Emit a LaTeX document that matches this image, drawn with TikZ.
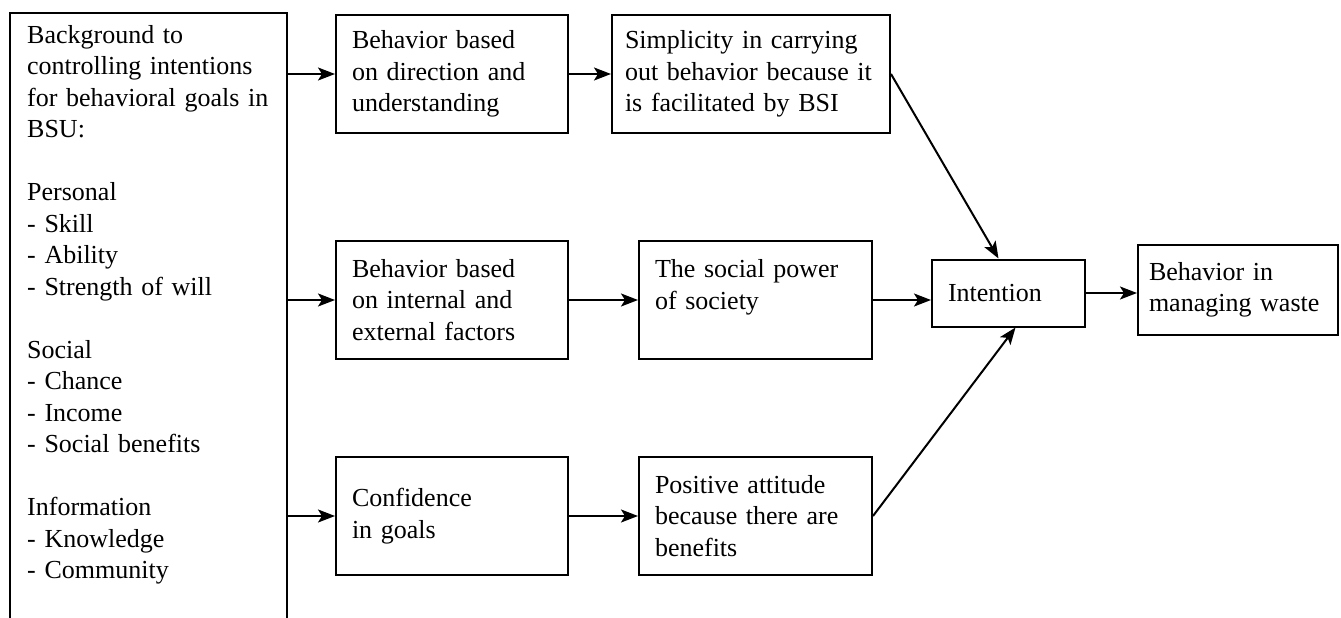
\documentclass[tikz,border=0pt]{standalone}
\usepackage{fontspec}
\setmainfont{Liberation Serif}
\usetikzlibrary{arrows.meta}

\tikzset{
  txt/.style={font=\fontsize{26}{31.5}\selectfont, align=left},
  box/.style={txt, draw, line width=2pt, inner xsep=16pt, minimum height=118pt},
  arr/.style={-{Stealth[length=17pt,width=13pt,inset=4pt]}, line width=2pt},
}

\begin{document}
\begin{tikzpicture}[x=1pt,y=-1pt]
\useasboundingbox (0,0) rectangle (1341,618);
% background column, its frame runs off the bottom of the page
\node[txt,anchor=north west,inner xsep=17pt,inner ysep=12pt,text width=243pt] (bg) at (10,13) {Background to\\controlling intentions\\for behavioral goals in\\BSU:\\[31.5pt]Personal\\- Skill\\- Ability\\- Strength of will\\[31.5pt]Social\\- Chance\\- Income\\- Social benefits\\[31.5pt]Information\\- Knowledge\\- Community};
\draw[line width=2pt] (bg.north west |- 0,640) -- (bg.north west) -- (bg.north east) -- (bg.north east |- 0,640);

% three rows of boxes
\node[box,text width=200pt] (dirbox) at (452,74) {Behavior based\\on direction and\\understanding};
\node[box,text width=252pt,inner xsep=13pt] (simple) at (751,74) {Simplicity in carrying\\out behavior because it\\is facilitated by BSI};
\node[box,text width=200pt] (factors) at (452,300) {Behavior based\\on internal and\\external factors};
\node[box,text width=201pt] (social) at (755.5,300) {The social power\\of society\\\mbox{}};
\node[box,text width=200pt] (confid) at (452,516) {Confidence\\in goals};
\node[box,text width=201pt] (attitude) at (755.5,516) {Positive attitude\\because there are\\benefits};

% outcome
\node[box,text width=121pt,minimum height=67pt] (intent) at (1008.5,293) {Intention};
\node[box,text width=178pt,inner xsep=11pt,minimum height=90pt] (waste) at (1238,290) {Behavior in\\managing waste};

\draw[arr] (bg.east |- dirbox.west) -- (dirbox.west);
\draw[arr] (bg.east |- factors.west) -- (factors.west);
\draw[arr] (bg.east |- confid.west) -- (confid.west);
\draw[arr] (dirbox) -- (simple);
\draw[arr] (factors) -- (social);
\draw[arr] (confid) -- (attitude);
\draw[arr] (simple.east) -- ([xshift=-10pt]intent.north);
\draw[arr] (social.east) -- (social.east -| intent.west);
\draw[arr] (attitude.east) -- ([xshift=7pt]intent.south);
\draw[arr] (intent.east) -- (intent.east -| waste.west);
\end{tikzpicture}
\end{document}
